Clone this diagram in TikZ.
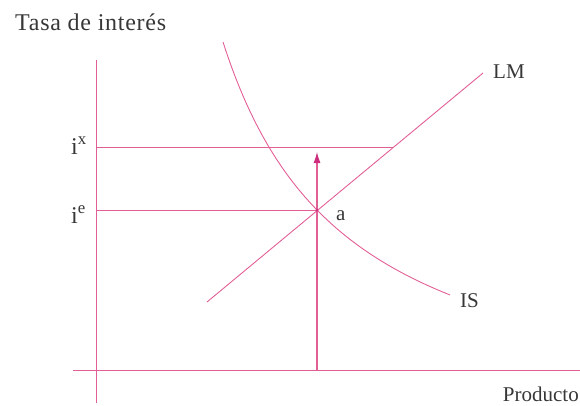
\documentclass[tikz,border=0pt]{standalone}
\usepackage{fontspec}
\setmainfont{Liberation Serif}
\usetikzlibrary{arrows.meta}
\definecolor{pinkline}{RGB}{226,95,150}
\definecolor{arrowc}{RGB}{205,45,125}
\definecolor{txt}{RGB}{55,55,55}
\begin{document}
\begin{tikzpicture}[x=1pt,y=-1pt,
  curve/.style={draw=pinkline,line width=0.9pt},
  lbl/.style={inner sep=0pt,text=txt,font=\fontsize{21}{24}\selectfont},
  ilbl/.style={inner sep=0pt,text=txt,font=\fontsize{24}{28}\selectfont},
  ttl/.style={inner sep=0pt,text=txt,font=\fontsize{24}{30}\selectfont\addfontfeature{LetterSpace=3}}]
\useasboundingbox (0,0) rectangle (580,405);
% axes
\coordinate (ytop) at (96,60);
\coordinate (ybot) at (96,403);
\coordinate (xl) at (73,370);
\coordinate (xr) at (580,370);
\draw[curve] (ytop) -- (ybot);
\draw[curve] (xl) -- (xr);
% points
\coordinate (a) at (317,210);
\coordinate (ixl) at (96,147);
\coordinate (ixr) at (393,147);
\coordinate (iel) at (96,210);
\coordinate (lmlo) at (207,302);
\coordinate (lmhi) at (483,73);
\coordinate (arrbot) at (317,370);
\coordinate (arrtop) at (317,152);
% lines
\draw[curve] (ixl) -- (ixr);
\draw[curve] (iel) -- (a);
\draw[curve] (lmlo) -- (lmhi);
\draw[curve] plot[domain=223:450,samples=80,smooth] (\x,{435.7-497.28/((\x-96.7)/100)});
\draw[curve,line width=1.1pt,-{Latex[length=11pt,width=7pt,color=arrowc]}] (arrbot) -- (arrtop);
\fill[arrowc] (a) circle (1.5pt);
% labels
\node[ttl,anchor=base west] (title) at (15,30) {Tasa de interés};
\node[lbl,anchor=base west] (lm) at (493,78) {LM};
\node[lbl,anchor=base west] (is) at (460,307) {IS};
\node[lbl,anchor=base east] (prod) at (579,401) {Producto};
\node[lbl,anchor=base west] (alab) at (336,220) {a};
\node[ilbl,anchor=base west] (ix) at (71,154) {i\textsuperscript{x}};
\node[ilbl,anchor=base west] (ie) at (71,223) {i\textsuperscript{e}};
\end{tikzpicture}
\end{document}
